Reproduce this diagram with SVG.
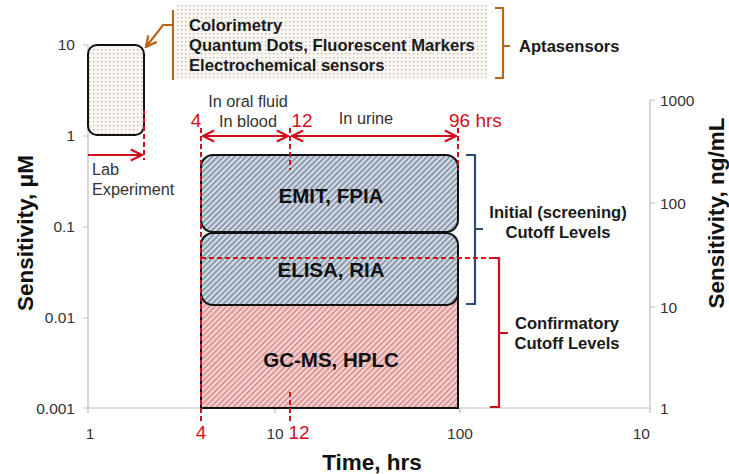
<svg xmlns="http://www.w3.org/2000/svg" width="729" height="474" viewBox="0 0 729 474">
<defs>
<pattern id="dots" width="4" height="4" patternUnits="userSpaceOnUse"><rect width="4" height="4" fill="#fbf8f3"/><rect x="1" y="1" width="1.3" height="1.3" fill="#bdb6ad"/></pattern>
<pattern id="hatchBlue" width="4" height="4" patternUnits="userSpaceOnUse" patternTransform="rotate(-45)"><rect width="4" height="4" fill="#d3dce7"/><rect width="4" height="1.6" fill="#7e8ca0"/></pattern>
<pattern id="hatchRed" width="4" height="4" patternUnits="userSpaceOnUse" patternTransform="rotate(-45)"><rect width="4" height="4" fill="#f6d3d3"/><rect width="4" height="1.6" fill="#d78b8b"/></pattern>
<marker id="arR" viewBox="0 0 10 10" refX="9" refY="5" markerWidth="7" markerHeight="7" orient="auto-start-reverse"><path d="M1,1 L9,5 L1,9" fill="none" stroke="#d0101e" stroke-width="1.6"/></marker>
<marker id="arB" viewBox="0 0 10 10" refX="9" refY="5" markerWidth="6" markerHeight="6" orient="auto"><path d="M1,1 L9,5 L1,9" fill="none" stroke="#b8651b" stroke-width="1.8"/></marker>
<style>
.ax{stroke:#bfbfbf;stroke-width:1.2;fill:none}
.tk{font-family:"Liberation Sans",Arial,sans-serif;font-size:15.5px;fill:#333}
.lbl{font-family:"Liberation Sans",Arial,sans-serif;font-size:16.3px;fill:#333}
.bold{font-family:"Liberation Sans",Arial,sans-serif;font-size:16.6px;font-weight:bold;fill:#1a1a1a}
.big{font-family:"Liberation Sans",Arial,sans-serif;font-size:20.5px;font-weight:bold;fill:#111}
.title{font-family:"Liberation Sans",Arial,sans-serif;font-size:22.5px;font-weight:bold;fill:#111}
.red{font-family:"Liberation Sans",Arial,sans-serif;font-size:19px;fill:#d0101e}
.dash{stroke:#d0101e;stroke-width:2;stroke-dasharray:5,3;fill:none}
.rline{stroke:#d0101e;stroke-width:2;fill:none}
.box{stroke:#111;stroke-width:2}
</style>
</defs>

<g id="axes">
<path class="ax" d="M88,45 V408 H650 M650,100 V408"/>
<path class="ax" d="M83,45 H88 M83,136 H88 M83,227 H88 M83,318 H88 M83,408 H88 M88,408 V413 M275,408 V413 M460,408 V413 M650,408 V413 M650,100 H655 M650,203 H655 M650,307 H655"/>
<text class="tk" x="75" y="50" text-anchor="end">10</text>
<text class="tk" x="75" y="141" text-anchor="end">1</text>
<text class="tk" x="75" y="232" text-anchor="end">0.1</text>
<text class="tk" x="75" y="323" text-anchor="end">0.01</text>
<text class="tk" x="75" y="414" text-anchor="end">0.001</text>
<text class="tk" x="660" y="106">1000</text>
<text class="tk" x="660" y="209">100</text>
<text class="tk" x="660" y="313">10</text>
<text class="tk" x="660" y="414">1</text>
<text class="tk" x="90" y="439" text-anchor="middle">1</text>
<text class="tk" x="275" y="439" text-anchor="middle">10</text>
<text class="tk" x="460" y="439" text-anchor="middle">100</text>
<text class="tk" x="650" y="439" text-anchor="end">10</text>
<text class="title" x="372" y="470" text-anchor="middle">Time, hrs</text>
<text class="title" transform="translate(33,233) rotate(-90)" text-anchor="middle">Sensitivity, μM</text>
<text class="title" transform="translate(724,213) rotate(-90)" text-anchor="middle">Sensitivity, ng/mL</text>
</g>

<g id="lab-box">
<rect x="88" y="45" width="56" height="90" rx="9" fill="url(#dots)" class="box"/>
</g>

<g id="top-text">
<rect x="176" y="5" width="312" height="73" fill="url(#dots)"/>
<text class="bold" x="189" y="31">Colorimetry</text>
<text class="bold" x="189" y="51">Quantum Dots, Fluorescent Markers</text>
<text class="bold" x="189" y="71">Electrochemical  sensors</text>
</g>

<g id="pink-box">
<rect x="201" y="258" width="257" height="150" fill="url(#hatchRed)" class="box"/>
<text class="big" x="331" y="367" text-anchor="middle">GC-MS, HPLC</text>
</g>

<g id="emit-box">
<rect x="201" y="155" width="257" height="77" rx="12" fill="url(#hatchBlue)" class="box"/>
<text class="big" x="331" y="203" text-anchor="middle">EMIT, FPIA</text>
</g>

<g id="elisa-box">
<rect x="201" y="233" width="257" height="72" rx="12" fill="url(#hatchBlue)" class="box"/>
<text class="big" x="331" y="277" text-anchor="middle">ELISA, RIA</text>
</g>

<g id="connectors">
<path d="M173,10 V80 M173,25 H163 L146,47" stroke="#b8651b" stroke-width="2.2" fill="none" marker-end="url(#arB)"/>
<path d="M495,8 H503 V78 H495 M503,46 H510" stroke="#b8651b" stroke-width="2.2" fill="none"/>
<path d="M466,155 H475 V304 H466 M475,229 H483" stroke="#2b4a78" stroke-width="2.2" fill="none"/>
<path class="dash" d="M201,258 H490"/>
<path d="M490,258 H499 V407 H490 M499,333 H508" stroke="#d0101e" stroke-width="2.2" fill="none"/>
<path class="dash" d="M144,110 V160"/>
<path class="rline" d="M88,155 H142" marker-end="url(#arR)"/>
<path class="dash" d="M201,128 V422"/>
<path class="dash" d="M290,128 V170 M290,392 V422"/>
<path class="dash" d="M458,128 V170"/>
<path class="rline" d="M203,136 H288" marker-start="url(#arR)" marker-end="url(#arR)"/>
<path class="rline" d="M292,136 H456" marker-start="url(#arR)" marker-end="url(#arR)"/>
</g>

<g id="labels">
<text class="lbl" x="92" y="175">Lab</text>
<text class="lbl" x="92" y="195">Experiment</text>
<text class="lbl" x="248" y="107" text-anchor="middle">In oral fluid</text>
<text class="lbl" x="248" y="127" text-anchor="middle">In blood</text>
<text class="lbl" x="366" y="124" text-anchor="middle">In urine</text>
<text class="red" x="196" y="127" text-anchor="middle">4</text>
<text class="red" x="302" y="127" text-anchor="middle">12</text>
<text class="red" x="449" y="127">96 hrs</text>
<text class="red" x="201" y="439" text-anchor="middle">4</text>
<text class="red" x="299" y="439" text-anchor="middle">12</text>
<text class="bold" x="519" y="52">Aptasensors</text>
<text class="bold" x="558" y="218" text-anchor="middle">Initial (screening)</text>
<text class="bold" x="558" y="238" text-anchor="middle">Cutoff Levels</text>
<text class="bold" x="567" y="329" text-anchor="middle">Confirmatory</text>
<text class="bold" x="567" y="349" text-anchor="middle">Cutoff Levels</text>
</g>
</svg>
